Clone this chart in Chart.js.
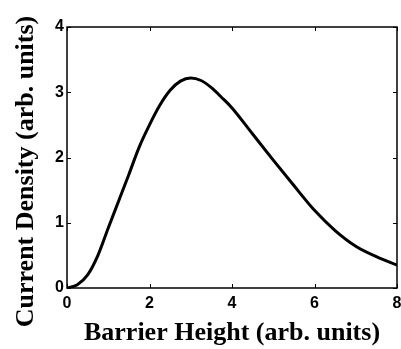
<!DOCTYPE html>
<html>
<head>
<meta charset="utf-8">
<script src="https://cdn.jsdelivr.net/npm/chart.js@4/dist/chart.umd.min.js"></script>
<style>
  html, body { margin: 0; padding: 0; background: #fff; }
  #wrap { width: 401px; height: 349px; }
</style>
</head>
<body>
<div id="wrap"><canvas id="jv"></canvas></div>
<script>
// barrier height (arb. units) and current density
var barrier = [0, 0.25, 0.5, 0.75, 1, 1.25, 1.5, 1.75, 2, 2.25, 2.5, 2.75, 3, 3.25, 3.5, 3.75, 4, 4.5, 5, 5.5, 6, 6.5, 7, 7.5, 8];
var current = [0, 0.05, 0.2, 0.5, 0.92, 1.33, 1.74, 2.16, 2.50, 2.80, 3.03, 3.17, 3.22, 3.18, 3.07, 2.92, 2.76, 2.36, 1.96, 1.57, 1.19, 0.88, 0.64, 0.48, 0.35];
var xTicks = [0, 2, 4, 6, 8];
var yTicks = [0, 1, 2, 3, 4];
var yTitle = 'Current Density (arb. units)';

var points = [];
for (i = 0; i < barrier.length; i++) {
  points.push({ x: barrier[i], y: current[i] });
}

// box round the plot plus inward tick marks on all four sides
var boxTicks = {
  id: 'boxTicks',
  afterDraw: function (chart) {
    var ctx = chart.ctx, a = chart.chartArea;
    var xs = chart.scales.x, ys = chart.scales.y;
    ctx.save();
    ctx.strokeStyle = '#000';
    ctx.lineWidth = 1.5;
    ctx.strokeRect(a.left, a.top, a.right - a.left, a.bottom - a.top);
    ctx.lineWidth = 1;
    ctx.beginPath();
    xTicks.forEach(function (v) {
      var px = Math.round(xs.getPixelForValue(v)) + 0.5;
      ctx.moveTo(px, a.bottom); ctx.lineTo(px, a.bottom - 4);
      ctx.moveTo(px, a.top); ctx.lineTo(px, a.top + 4);
    });
    yTicks.forEach(function (v) {
      var py = Math.round(ys.getPixelForValue(v)) + 0.5;
      ctx.moveTo(a.left, py); ctx.lineTo(a.left + 4, py);
      ctx.moveTo(a.right, py); ctx.lineTo(a.right - 4, py);
    });
    ctx.stroke();

    // y title sits a bit lower than the axis middle in the original
    ctx.translate(26, (a.top + a.bottom) / 2 + 14);
    ctx.rotate(-Math.PI / 2);
    ctx.fillStyle = '#000';
    ctx.font = 'bold 26px "Liberation Serif"';
    ctx.textAlign = 'center';
    ctx.textBaseline = 'middle';
    ctx.fillText(yTitle, 0, 0);
    ctx.restore();
  }
};

new Chart(document.getElementById('jv'), {
  type: 'line',
  data: {
    datasets: [{
      data: points,
      borderColor: '#000',
      borderWidth: 3,
      pointRadius: 0,
      cubicInterpolationMode: 'monotone',
      fill: false
    }]
  },
  options: {
    responsive: true,
    maintainAspectRatio: false,
    animation: false,
    layout: { padding: { top: 27, right: 4, left: 0, bottom: 0 } },
    plugins: { legend: { display: false }, tooltip: { enabled: false } },
    scales: {
      x: {
        type: 'linear',
        min: 0, max: 8,
        afterFit: function (s) { s.height = 61; s.paddingRight = 0; s.paddingLeft = 0; },
        grid: { display: false, drawTicks: false },
        border: { display: false },
        ticks: {
          stepSize: 2, padding: 6, color: '#000', maxRotation: 0,
          font: { family: 'Liberation Sans', size: 16, weight: 'bold' }
        },
        title: {
          display: true,
          text: 'Barrier Height (arb. units)',
          color: '#000',
          padding: { top: 6, bottom: 0 },
          font: { family: 'Liberation Serif', size: 26, weight: 'bold' }
        }
      },
      y: {
        min: 0, max: 4,
        afterFit: function (s) { s.width = 67; s.paddingTop = 0; s.paddingBottom = 0; },
        grid: { display: false, drawTicks: false },
        border: { display: false },
        ticks: {
          stepSize: 1, padding: 3, color: '#000',
          font: { family: 'Liberation Sans', size: 16, weight: 'bold' }
        },
        title: { display: false }
      }
    }
  },
  plugins: [boxTicks]
});
</script>
</body>
</html>
